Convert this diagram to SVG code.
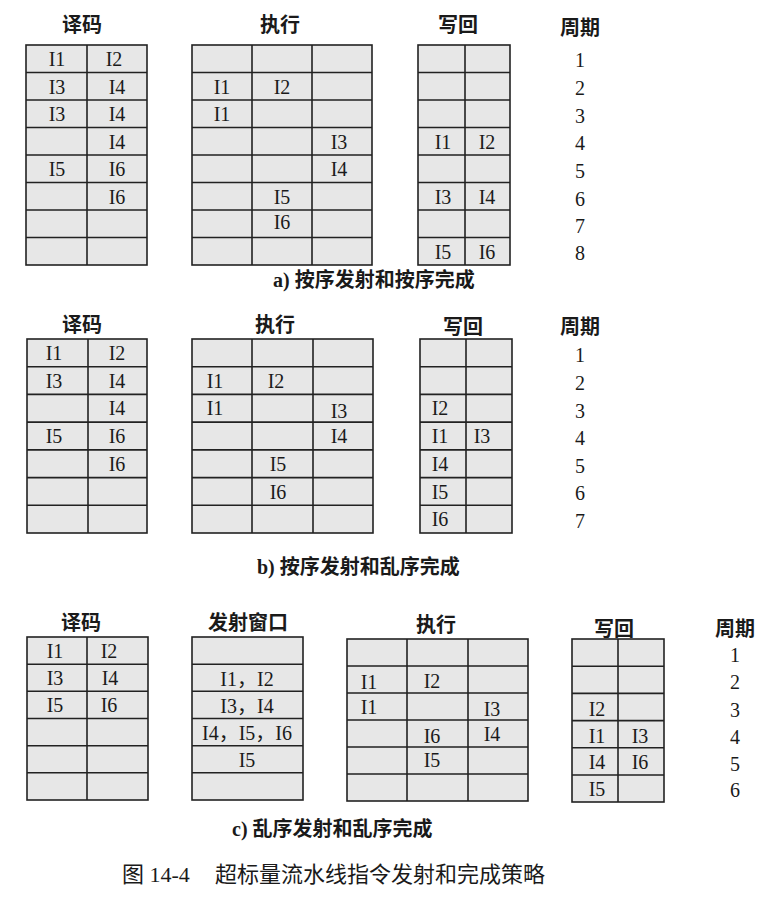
<svg xmlns="http://www.w3.org/2000/svg" width="771" height="913" viewBox="0 0 771 913">
<style>
.cell{fill:#e7e7e7;stroke:#222;stroke-width:1.6}
.grid{fill:none;stroke:#222;stroke-width:1.6}
.t{font-family:"Liberation Serif","Noto Sans CJK SC",serif;font-size:20px;fill:#1a1a1a;text-anchor:middle}
.h{font-family:"Noto Sans CJK SC",sans-serif;font-size:20px;font-weight:700;fill:#1a1a1a;text-anchor:middle}
.cap{font-family:"Liberation Serif","Noto Sans CJK SC",serif;font-size:20px;font-weight:700;fill:#1a1a1a}
.main{font-family:"Liberation Serif","Noto Sans CJK SC",serif;font-size:22px;fill:#1a1a1a}
</style>
<rect width="771" height="913" fill="#ffffff"/>

<!-- Section a -->
<g id="a-headers">
<text class="h" x="82" y="32">译码</text>
<text class="h" x="280" y="32">执行</text>
<text class="h" x="458" y="32">写回</text>
<text class="h" x="580" y="35">周期</text>
</g>
<g id="a-decode">
<rect class="cell" x="26" y="45" width="121" height="220"/>
<path class="grid" d="M87,45V265M26,72.5H147M26,100H147M26,127.5H147M26,155H147M26,182.5H147M26,210H147M26,237.5H147"/>
<text class="t" x="57" y="66">I1</text><text class="t" x="114" y="66">I2</text>
<text class="t" x="57" y="93.5">I3</text><text class="t" x="117" y="93.5">I4</text>
<text class="t" x="57" y="121">I3</text><text class="t" x="117" y="121">I4</text>
<text class="t" x="117" y="148.5">I4</text>
<text class="t" x="57" y="176">I5</text><text class="t" x="117" y="176">I6</text>
<text class="t" x="117" y="203.5">I6</text>
</g>
<g id="a-exec">
<rect class="cell" x="192" y="45" width="180" height="220"/>
<path class="grid" d="M252,45V265M312,45V265M192,72.5H372M192,100H372M192,127.5H372M192,155H372M192,182.5H372M192,210H372M192,237.5H372"/>
<text class="t" x="222" y="93.5">I1</text><text class="t" x="282" y="93.5">I2</text>
<text class="t" x="222" y="121">I1</text>
<text class="t" x="339" y="148.5">I3</text>
<text class="t" x="339" y="176">I4</text>
<text class="t" x="282" y="204">I5</text>
<text class="t" x="282" y="229">I6</text>
</g>
<g id="a-writeback">
<rect class="cell" x="418" y="45" width="92" height="220"/>
<path class="grid" d="M465,45V265M418,72.5H510M418,100H510M418,127.5H510M418,155H510M418,182.5H510M418,210H510M418,237.5H510"/>
<text class="t" x="443" y="148.5">I1</text><text class="t" x="487" y="148.5">I2</text>
<text class="t" x="443" y="203.5">I3</text><text class="t" x="487" y="203.5">I4</text>
<text class="t" x="443" y="258.5">I5</text><text class="t" x="487" y="258.5">I6</text>
</g>
<g id="a-cycles">
<text class="t" x="580" y="67">1</text>
<text class="t" x="580" y="95">2</text>
<text class="t" x="580" y="123">3</text>
<text class="t" x="580" y="150">4</text>
<text class="t" x="580" y="178">5</text>
<text class="t" x="580" y="206">6</text>
<text class="t" x="580" y="233">7</text>
<text class="t" x="580" y="260">8</text>
</g>
<text class="cap" x="273" y="287">a) 按序发射和按序完成</text>

<!-- Section b -->
<g id="b-headers">
<text class="h" x="82" y="332">译码</text>
<text class="h" x="275" y="332">执行</text>
<text class="h" x="463" y="334">写回</text>
<text class="h" x="580" y="334">周期</text>
</g>
<g id="b-decode">
<rect class="cell" x="27" y="339" width="120" height="194"/>
<path class="grid" d="M88,339V533M27,366.7H147M27,394.4H147M27,422.1H147M27,449.9H147M27,477.6H147M27,505.3H147"/>
<text class="t" x="54" y="360">I1</text><text class="t" x="117" y="360">I2</text>
<text class="t" x="54" y="387.7">I3</text><text class="t" x="117" y="387.7">I4</text>
<text class="t" x="117" y="415.4">I4</text>
<text class="t" x="54" y="443.1">I5</text><text class="t" x="117" y="443.1">I6</text>
<text class="t" x="117" y="470.9">I6</text>
</g>
<g id="b-exec">
<rect class="cell" x="192" y="339" width="181" height="194"/>
<path class="grid" d="M252,339V533M313,339V533M192,366.7H373M192,394.4H373M192,422.1H373M192,449.9H373M192,477.6H373M192,505.3H373"/>
<text class="t" x="215" y="387.7">I1</text><text class="t" x="276" y="387.7">I2</text>
<text class="t" x="215" y="415.4">I1</text><text class="t" x="339" y="418">I3</text>
<text class="t" x="339" y="443.1">I4</text>
<text class="t" x="278" y="470.9">I5</text>
<text class="t" x="278" y="498.6">I6</text>
</g>
<g id="b-writeback">
<rect class="cell" x="420" y="339" width="92" height="194"/>
<path class="grid" d="M466,339V533M420,366.7H512M420,394.4H512M420,422.1H512M420,449.9H512M420,477.6H512M420,505.3H512"/>
<text class="t" x="440" y="415.4">I2</text>
<text class="t" x="440" y="443.1">I1</text><text class="t" x="482" y="443.1">I3</text>
<text class="t" x="440" y="470.9">I4</text>
<text class="t" x="440" y="498.6">I5</text>
<text class="t" x="440" y="526.3">I6</text>
</g>
<g id="b-cycles">
<text class="t" x="580" y="362">1</text>
<text class="t" x="580" y="390">2</text>
<text class="t" x="580" y="418">3</text>
<text class="t" x="580" y="445">4</text>
<text class="t" x="580" y="473">5</text>
<text class="t" x="580" y="500">6</text>
<text class="t" x="580" y="528">7</text>
</g>
<text class="cap" x="257" y="574">b) 按序发射和乱序完成</text>

<!-- Section c -->
<g id="c-headers">
<text class="h" x="81" y="630">译码</text>
<text class="h" x="248" y="630">发射窗口</text>
<text class="h" x="436" y="632">执行</text>
<text class="h" x="614" y="636">写回</text>
<text class="h" x="735" y="636">周期</text>
</g>
<g id="c-decode">
<rect class="cell" x="27" y="637" width="121" height="163"/>
<path class="grid" d="M87,637V800M27,664.2H148M27,691.3H148M27,718.5H148M27,745.7H148M27,772.8H148"/>
<text class="t" x="55" y="658">I1</text><text class="t" x="109" y="658">I2</text>
<text class="t" x="55" y="685.2">I3</text><text class="t" x="110" y="685.2">I4</text>
<text class="t" x="55" y="712.3">I5</text><text class="t" x="109" y="712.3">I6</text>
</g>
<g id="c-issue-window">
<rect class="cell" x="192" y="637" width="111" height="163"/>
<path class="grid" d="M192,664.2H303M192,691.3H303M192,718.5H303M192,745.7H303M192,772.8H303"/>
<text class="t" x="247" y="686">I1，I2</text>
<text class="t" x="247" y="713">I3，I4</text>
<text class="t" x="247" y="740">I4，I5，I6</text>
<text class="t" x="247" y="767">I5</text>
</g>
<g id="c-exec">
<rect class="cell" x="347" y="639" width="181" height="162"/>
<path class="grid" d="M407,639V801M468,639V801M347,666H528M347,693H528M347,720H528M347,747H528M347,774H528"/>
<text class="t" x="369" y="689">I1</text><text class="t" x="432" y="688">I2</text>
<text class="t" x="369" y="714">I1</text><text class="t" x="492" y="716">I3</text>
<text class="t" x="432" y="743">I6</text><text class="t" x="492" y="741">I4</text>
<text class="t" x="432" y="767">I5</text>
</g>
<g id="c-writeback">
<rect class="cell" x="572" y="639" width="92" height="163"/>
<path class="grid" d="M618,639V802M572,666.2H664M572,693.4H664M572,720.6H664M572,747.8H664M572,775H664"/>
<text class="t" x="597" y="716">I2</text>
<text class="t" x="597" y="743">I1</text><text class="t" x="640" y="743">I3</text>
<text class="t" x="597" y="769">I4</text><text class="t" x="640" y="769">I6</text>
<text class="t" x="597" y="796">I5</text>
</g>
<g id="c-cycles">
<text class="t" x="735" y="662">1</text>
<text class="t" x="735" y="689">2</text>
<text class="t" x="735" y="717">3</text>
<text class="t" x="735" y="744">4</text>
<text class="t" x="735" y="771">5</text>
<text class="t" x="735" y="797">6</text>
</g>
<text class="cap" x="232" y="836">c) 乱序发射和乱序完成</text>

<text class="main" x="122" y="882">图 14-4<tspan x="215">超标量流水线指令发射和完成策略</tspan></text>
</svg>
